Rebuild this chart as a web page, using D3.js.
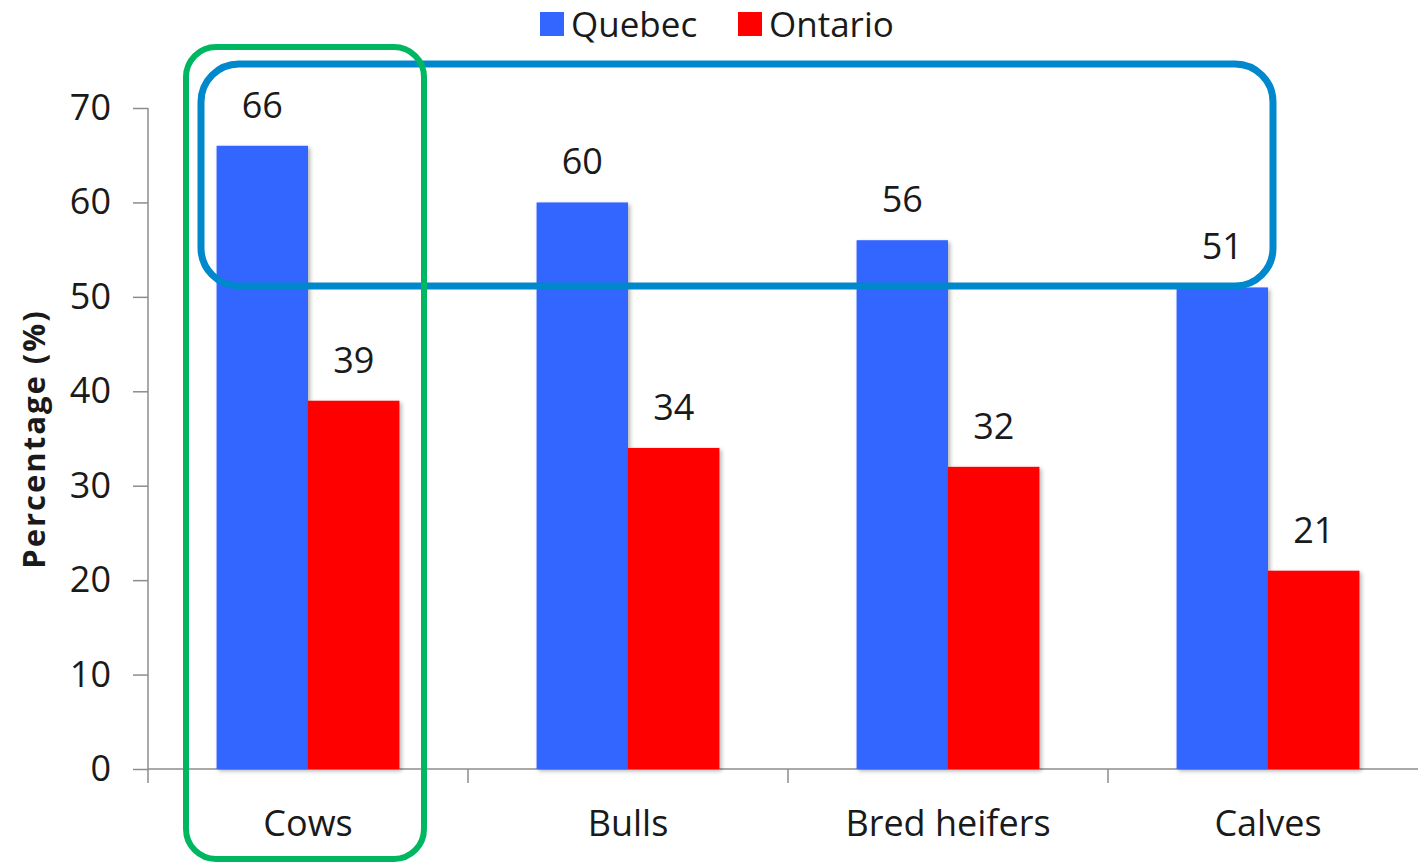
<!DOCTYPE html>
<html lang="en">
<head>
  <meta charset="UTF-8">
  <title>Quebec vs Ontario</title>
  <style>
    body { margin: 0; background: #fff; }
    svg { display: block; }
    text { font-family: "Open Sans", sans-serif; fill: #1a1a1a; }
    .axis path, .axis line { stroke: #8c8c8c; stroke-width: 1.5px; fill: none; }
  </style>
</head>
<body>
  <svg width="1418" height="867"></svg>
  <script src="https://cdn.jsdelivr.net/npm/d3@7"></script>
  <script>
    var categories = ["Cows", "Bulls", "Bred heifers", "Calves"];
    var series = ["Quebec", "Ontario"];
    var quebec = [66, 60, 56, 51];
    var ontario = [39, 34, 32, 21];
    var yTicks = [0, 10, 20, 30, 40, 50, 60, 70];
    var colors = ["#3366ff", "#ff0000"];

    var svg = d3.select("svg");
    var values = [quebec, ontario];

    var x0 = d3.scaleBand().domain(categories).range([148, 1428]).padding(0);
    var x1 = d3.scaleBand().domain(series).range([0, x0.bandwidth()])
        .paddingInner(0).paddingOuter(0.75);
    var y = d3.scaleLinear().domain([0, 70]).range([769, 108]);

    // shadow for bars
    var defs = svg.append("defs");
    var f = defs.append("filter").attr("id", "shadow")
        .attr("x", "-10%").attr("y", "-10%").attr("width", "130%").attr("height", "130%");
    f.append("feDropShadow").attr("dx", 2).attr("dy", 2)
        .attr("stdDeviation", 2).attr("flood-color", "#000").attr("flood-opacity", 0.3);

    // y axis
    var yAxis = svg.append("g")
        .attr("class", "axis")
        .attr("transform", "translate(148,0)")
        .call(d3.axisLeft(y).tickValues(yTicks).tickSize(15).tickPadding(22).tickSizeOuter(0));
    yAxis.select(".domain").attr("d", "M0," + y(70) + "V" + (y(0) + 14));
    yAxis.selectAll("text").style("font-size", "36px").attr("fill", "#1a1a1a");

    // x axis line + ticks at band boundaries
    var xg = svg.append("g").attr("class", "axis");
    xg.append("line").attr("x1", 148).attr("x2", 1418)
        .attr("y1", y(0)).attr("y2", y(0));
    xg.selectAll(".tk").data(categories.slice(1)).enter().append("line")
        .attr("x1", function(d) { return x0(d); })
        .attr("x2", function(d) { return x0(d); })
        .attr("y1", y(0)).attr("y2", y(0) + 14);

    // bars
    var groups = svg.selectAll(".grp").data(categories).enter().append("g")
        .attr("transform", function(d) { return "translate(" + x0(d) + ",0)"; });

    groups.selectAll("rect").data(function(d, i) {
        return series.map(function(s, j) { return {s: s, v: values[j][i], j: j}; });
      }).enter().append("rect")
        .attr("x", function(d) { return x1(d.s); })
        .attr("y", function(d) { return y(d.v); })
        .attr("width", x1.bandwidth())
        .attr("height", function(d) { return y(0) - y(d.v); })
        .attr("fill", function(d) { return colors[d.j]; })
        .attr("filter", "url(#shadow)");

    groups.selectAll(".lbl").data(function(d, i) {
        return series.map(function(s, j) { return {s: s, v: values[j][i]}; });
      }).enter().append("text")
        .attr("x", function(d) { return x1(d.s) + x1.bandwidth() / 2; })
        .attr("y", function(d) { return y(d.v) - 28; })
        .attr("text-anchor", "middle")
        .style("font-size", "36px")
        .text(function(d) { return d.v; });

    // category labels
    svg.selectAll(".cat").data(categories).enter().append("text")
        .attr("x", function(d) { return x0(d) + x0.bandwidth() / 2; })
        .attr("y", 836)
        .attr("text-anchor", "middle")
        .style("font-size", "36px")
        .text(function(d) { return d; });

    // y title
    svg.append("text")
        .attr("transform", "translate(45,439) rotate(-90)")
        .attr("text-anchor", "middle")
        .style("font-size", "31px")
        .style("font-weight", "bold")
        .style("letter-spacing", "2px")
        .attr("fill", "#000")
        .text("Percentage (%)");

    // legend
    var legend = svg.append("g").attr("transform", "translate(540,0)");
    var lx = [0, 198];
    series.forEach(function(s, i) {
      legend.append("rect").attr("x", lx[i]).attr("y", 12)
          .attr("width", 24).attr("height", 24).attr("fill", colors[i]);
      legend.append("text").attr("x", lx[i] + 31).attr("y", 37)
          .style("font-size", "35px").text(s);
    });

    // highlight boxes
    svg.append("rect").attr("x", 201).attr("y", 64).attr("width", 1072).attr("height", 222)
        .attr("rx", 38).attr("fill", "none").attr("stroke", "#0088cc").attr("stroke-width", 7);
    svg.append("rect").attr("x", 186).attr("y", 47).attr("width", 238).attr("height", 812)
        .attr("rx", 30).attr("fill", "none").attr("stroke", "#00b761").attr("stroke-width", 6);
  </script>
</body>
</html>
